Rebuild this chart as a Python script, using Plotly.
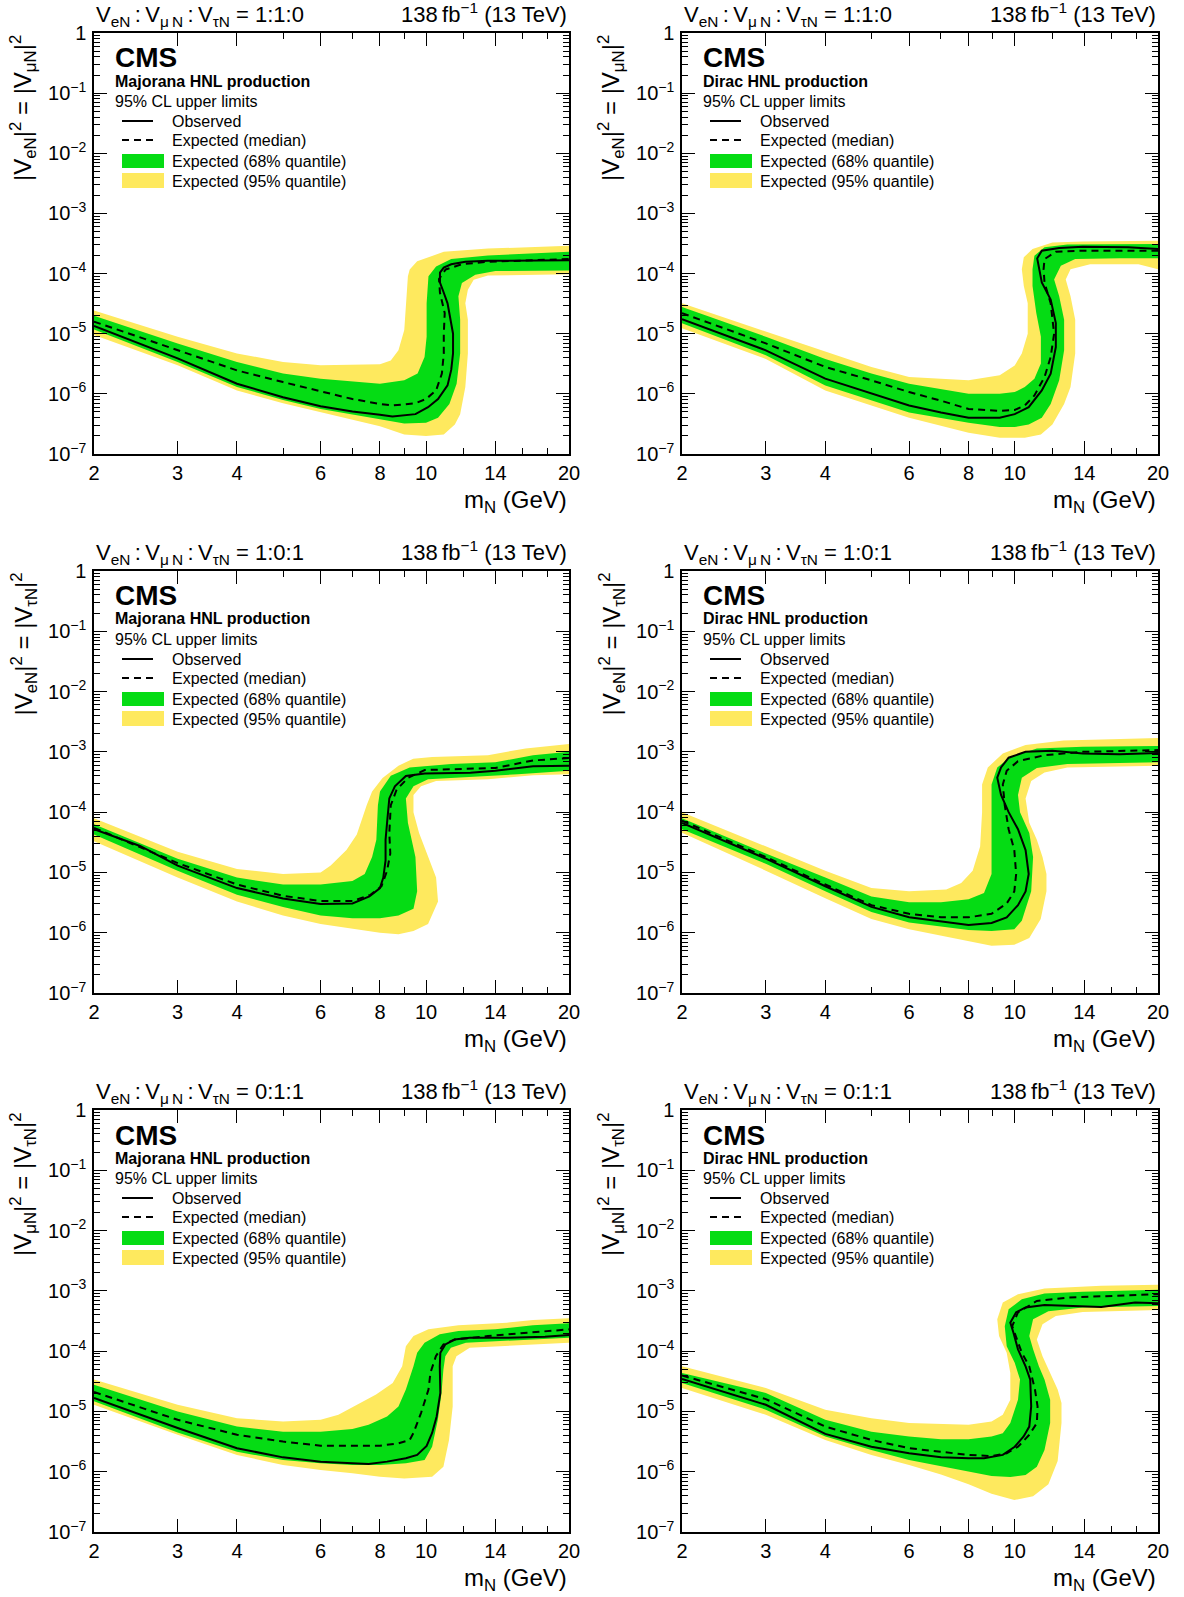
import math
import plotly.graph_objects as go

# ---------------------------------------------------------------------------
# 95% CL upper limits on |V|^2 versus HNL mass m_N (GeV)
# Each limit curve is a list of (m_N, |V|^2) points along the contour; the
# bands are given by their two edges: *_UP (above / left of the median) and
# *_LO (below / right of the median), both running from low to high mass.
# ---------------------------------------------------------------------------

# --- Majorana, V_eN : V_muN : V_tauN = 1:1:0 ---
MAJ110_OBS_M = [2, 3, 4, 5, 6, 7, 8, 8.5, 9.5, 10.1, 10.6, 11.1, 11.3, 11.4, 11.4, 11.25, 11.1, 10.9, 10.7, 10.7, 10.9, 11.3, 12.1, 13.5, 20]
MAJ110_OBS_V = [1.35e-5, 3.9e-6, 1.47e-6, 8.8e-7, 6.2e-7, 5.1e-7, 4.5e-7, 4.2e-7, 4.6e-7, 6.0e-7, 8.2e-7, 1.38e-6, 2.5e-6, 4.7e-6, 1.0e-5, 1.9e-5, 3.2e-5, 4.8e-5, 7.1e-5, 1.04e-4, 1.26e-4, 1.43e-4, 1.57e-4, 1.63e-4, 1.66e-4]
MAJ110_EXP_M = [2, 3, 4, 5, 6, 7, 8, 8.5, 9.5, 10, 10.5, 10.8, 10.9, 10.9, 10.95, 10.7, 10.65, 11.0, 11.9, 13.5, 20]
MAJ110_EXP_V = [1.59e-5, 5.3e-6, 2.45e-6, 1.57e-6, 1.1e-6, 8.2e-7, 6.8e-7, 6.4e-7, 7.0e-7, 8.2e-7, 1.14e-6, 2.17e-6, 4.7e-6, 1.0e-5, 2.2e-5, 4.8e-5, 8.1e-5, 1.17e-4, 1.43e-4, 1.57e-4, 1.75e-4]
MAJ110_S1_UP_M = [2, 3, 4, 5, 6, 8, 9, 9.6, 9.93, 10.03, 10.03, 10.12, 10.5, 11.3, 13.5, 20]
MAJ110_S1_UP_V = [1.98e-5, 6.9e-6, 3.4e-6, 2.17e-6, 1.79e-6, 1.47e-6, 1.68e-6, 2.17e-6, 4.1e-6, 8.9e-6, 3.2e-5, 9.0e-5, 1.31e-4, 1.75e-4, 2.0e-4, 2.3e-4]
MAJ110_S1_LO_M = [2, 3, 4, 5, 6, 8, 9, 10, 10.6, 11.2, 11.6, 11.8, 11.8, 11.7, 11.9, 12.7, 14, 20]
MAJ110_S1_LO_V = [1.18e-5, 3.4e-6, 1.3e-6, 7.9e-7, 5.6e-7, 3.8e-7, 3.2e-7, 3.3e-7, 4.0e-7, 6.8e-7, 1.47e-6, 4.7e-6, 1.7e-5, 4.2e-5, 7.0e-5, 9.6e-5, 1.1e-4, 1.12e-4]
MAJ110_S2_UP_M = [2, 3, 4, 5, 6, 8, 8.43, 8.75, 9.0, 9.07, 9.16, 9.24, 9.58, 10.9, 13.5, 20]
MAJ110_S2_UP_V = [2.44e-5, 8.9e-6, 4.7e-6, 3.4e-6, 3.0e-6, 3.1e-6, 3.6e-6, 5.3e-6, 1.15e-5, 3.2e-5, 9.0e-5, 1.17e-4, 1.6e-4, 2.3e-4, 2.6e-4, 2.9e-4]
MAJ110_S2_LO_M = [2, 3, 4, 5, 6, 8, 9, 10, 10.9, 11.5, 11.8, 12.1, 12.25, 12.25, 12.1, 12.25, 12.6, 13.5, 20]
MAJ110_S2_LO_V = [9.5e-6, 3.0e-6, 1.14e-6, 7.0e-7, 4.9e-7, 2.9e-7, 2.1e-7, 2.0e-7, 2.1e-7, 3.1e-7, 4.6e-7, 1.3e-6, 4.7e-6, 1.7e-5, 3.2e-5, 5.4e-5, 7.9e-5, 9.3e-5, 9.7e-5]

# --- Dirac, 1:1:0 ---
DIR110_OBS_M = [2, 3, 4, 5, 6, 7, 8, 9.3, 10, 10.7, 11.4, 11.9, 12.2, 12.2, 11.9, 11.4, 11.25, 11.15, 11.4, 12.4, 13.9, 17.3, 20]
DIR110_OBS_V = [1.74e-5, 5.3e-6, 1.79e-6, 1.0e-6, 6.4e-7, 4.9e-7, 4.0e-7, 4.0e-7, 4.6e-7, 6.0e-7, 1.14e-6, 2.17e-6, 6.0e-6, 1.5e-5, 3.7e-5, 7.1e-5, 1.18e-4, 1.79e-4, 2.4e-4, 2.67e-4, 2.8e-4, 2.74e-4, 2.57e-4]
DIR110_EXP_M = [2, 3, 4, 5, 6, 7, 8, 9.3, 10, 10.5, 11.0, 11.55, 11.9, 12.1, 11.9, 11.55, 11.5, 11.55, 12.2, 13.9, 20]
DIR110_EXP_V = [2.2e-5, 6.9e-6, 2.8e-6, 1.68e-6, 1.07e-6, 7.7e-7, 5.6e-7, 5.2e-7, 5.4e-7, 6.4e-7, 9.4e-7, 1.9e-6, 4.1e-6, 1.0e-5, 3.2e-5, 7.1e-5, 1.18e-4, 1.74e-4, 2.3e-4, 2.4e-4, 2.4e-4]
DIR110_S1_UP_M = [2, 3, 4, 5, 6, 8, 9.3, 10, 10.5, 11.0, 11.35, 11.35, 11.1, 10.9, 10.9, 11.0, 11.55, 12.9, 20]
DIR110_S1_UP_V = [2.78e-5, 8.9e-6, 3.8e-6, 2.17e-6, 1.47e-6, 1.0e-6, 1.0e-6, 1.07e-6, 1.3e-6, 1.79e-6, 3.2e-6, 8.9e-6, 2.2e-5, 6.2e-5, 1.18e-4, 1.98e-4, 2.74e-4, 3.03e-4, 3.1e-4]
DIR110_S1_LO_M = [2, 3, 4, 5, 6, 8, 9.3, 10, 10.7, 11.4, 11.9, 12.4, 12.7, 12.7, 12.4, 12.1, 12.5, 13.4, 16.6, 20]
DIR110_S1_LO_V = [1.49e-5, 4.4e-6, 1.38e-6, 7.7e-7, 4.9e-7, 3.3e-7, 2.8e-7, 2.8e-7, 3.1e-7, 4.0e-7, 6.8e-7, 1.68e-6, 5.3e-6, 1.7e-5, 4.2e-5, 8.0e-5, 1.35e-4, 1.74e-4, 1.8e-4, 1.8e-4]
DIR110_S2_UP_M = [2, 3, 4, 5, 6, 8, 9.3, 10, 10.35, 10.65, 10.65, 10.45, 10.35, 10.45, 10.9, 12.0, 13.9, 20]
DIR110_S2_UP_V = [3.2e-5, 1.08e-5, 5.0e-6, 2.8e-6, 1.9e-6, 1.68e-6, 2.03e-6, 2.97e-6, 4.7e-6, 1.0e-5, 3.2e-5, 6.2e-5, 1.18e-4, 1.86e-4, 2.57e-4, 3.3e-4, 3.4e-4, 3.5e-4]
DIR110_S2_LO_M = [2, 3, 4, 5, 6, 8, 9.3, 10.5, 11.35, 12.0, 12.7, 13.1, 13.4, 13.4, 13.1, 12.8, 13.1, 14.4, 18.2, 20]
DIR110_S2_LO_V = [1.23e-5, 3.8e-6, 1.14e-6, 6.4e-7, 4.0e-7, 2.26e-7, 1.86e-7, 1.86e-7, 2.1e-7, 3.1e-7, 6.8e-7, 1.3e-6, 4.7e-6, 1.7e-5, 4.2e-5, 8.0e-5, 1.18e-4, 1.43e-4, 1.43e-4, 1.18e-4]

# --- Majorana, 1:0:1 ---
MAJ101_OBS_M = [2, 2.5, 3, 4, 5, 6, 7, 7.6, 8, 8.13, 8.22, 8.22, 8.28, 8.37, 8.6, 9.07, 9.94, 12.4, 14, 16.8, 20]
MAJ101_OBS_V = [5.2e-5, 2.75e-5, 1.3e-5, 5.5e-6, 3.7e-6, 3.0e-6, 3.06e-6, 4.0e-6, 5.5e-6, 8.2e-6, 1.58e-5, 3.5e-5, 6.7e-5, 1.69e-4, 2.68e-4, 3.98e-4, 4.36e-4, 4.5e-4, 4.85e-4, 5.75e-4, 5.9e-4]
MAJ101_EXP_M = [2, 3, 4, 5, 6, 7, 7.64, 8.06, 8.28, 8.41, 8.37, 8.43, 8.67, 9.16, 9.94, 14, 16.8, 20]
MAJ101_EXP_V = [5.5e-5, 1.43e-5, 6.3e-6, 4.1e-6, 3.35e-6, 3.35e-6, 4.25e-6, 5.9e-6, 1.07e-5, 2.06e-5, 4.5e-5, 1.3e-4, 2.35e-4, 3.7e-4, 5.0e-4, 5.4e-4, 7.2e-4, 7.9e-4]
MAJ101_S1_UP_M = [2, 3, 4, 5, 6, 7, 7.43, 7.7, 7.86, 7.92, 8.0, 8.43, 9.24, 11.3, 14, 16.8, 20]
MAJ101_S1_UP_V = [6.3e-5, 1.69e-5, 8.2e-6, 6.3e-6, 6.3e-6, 7.2e-6, 9.4e-6, 1.8e-5, 3.5e-5, 1.3e-4, 2.2e-4, 4.0e-4, 5.5e-4, 6.3e-4, 6.7e-4, 8.8e-4, 1.0e-3]
MAJ101_S1_LO_M = [2, 3, 4, 5, 6, 7, 8, 8.75, 9.41, 9.58, 9.5, 9.16, 9.07, 9.41, 10.1, 12.4, 15.6, 20]
MAJ101_S1_LO_V = [4.25e-5, 1.07e-5, 4.25e-6, 2.68e-6, 1.93e-6, 1.74e-6, 1.74e-6, 1.93e-6, 2.5e-6, 4.85e-6, 1.8e-5, 6.7e-5, 1.69e-4, 2.68e-4, 3.5e-4, 3.83e-4, 4.25e-4, 4.85e-4]
MAJ101_S2_UP_M = [2, 3, 4, 5, 6, 6.3, 6.8, 7.15, 7.5, 7.7, 8.1, 8.75, 9.4, 10.3, 13.5, 16.2, 20]
MAJ101_S2_UP_V = [7.9e-5, 2.2e-5, 1.14e-5, 9.4e-6, 1.0e-5, 1.3e-5, 2.35e-5, 4.25e-5, 1.3e-4, 2.2e-4, 3.7e-4, 5.9e-4, 7.7e-4, 8.2e-4, 8.8e-4, 1.14e-3, 1.35e-3]
MAJ101_S2_LO_M = [2, 3, 4, 5, 6, 8, 8.75, 9.41, 10.1, 10.6, 10.5, 10.1, 9.67, 9.41, 9.41, 9.76, 10.5, 13.5, 16.8, 20]
MAJ101_S2_LO_V = [3.3e-5, 8.2e-6, 3.3e-6, 1.93e-6, 1.39e-6, 1.0e-6, 9.4e-7, 1.07e-6, 1.39e-6, 3.3e-6, 8.2e-6, 1.8e-5, 4.5e-5, 1.0e-4, 1.93e-4, 2.68e-4, 3.3e-4, 3.5e-4, 4.1e-4, 4.25e-4]

# --- Dirac, 1:0:1 ---
DIR101_OBS_M = [2, 3, 4, 5, 6, 7, 8, 8.94, 9.62, 10.16, 10.54, 10.7, 10.54, 10.16, 9.71, 9.36, 9.19, 9.36, 9.71, 10.54, 12.0, 13.9, 16.6, 20]
DIR101_OBS_V = [6.6e-5, 1.69e-5, 5.9e-6, 2.68e-6, 1.8e-6, 1.54e-6, 1.34e-6, 1.45e-6, 1.8e-6, 2.87e-6, 4.85e-6, 9.4e-6, 2.35e-5, 5.2e-5, 1.0e-4, 1.93e-4, 3.73e-4, 5.5e-4, 8.0e-4, 1.0e-3, 1.04e-3, 9.4e-4, 9.1e-4, 9.6e-4]
DIR101_EXP_M = [2, 3, 4, 5, 6, 7, 8, 8.94, 9.62, 9.98, 10.07, 9.98, 9.71, 9.53, 9.44, 9.62, 10.16, 11.55, 13.9, 20]
DIR101_EXP_V = [7.2e-5, 1.8e-5, 6.3e-6, 2.87e-6, 2.06e-6, 1.8e-6, 1.8e-6, 2.06e-6, 3.06e-6, 4.85e-6, 9.4e-6, 2.35e-5, 5.2e-5, 1.3e-4, 2.87e-4, 4.85e-4, 7.0e-4, 8.8e-4, 1.0e-3, 1.07e-3]
DIR101_S1_UP_M = [2, 3, 4, 5, 6, 7, 8, 8.62, 8.94, 8.94, 8.94, 8.94, 9.19, 9.79, 11.13, 13.9, 20]
DIR101_S1_UP_V = [7.9e-5, 2.06e-5, 8.2e-6, 4.0e-6, 3.2e-6, 3.2e-6, 3.6e-6, 4.55e-6, 9.4e-6, 3.5e-5, 1.3e-4, 2.87e-4, 5.5e-4, 8.2e-4, 1.14e-3, 1.22e-3, 1.25e-3]
DIR101_S1_LO_M = [2, 3, 4, 5, 6, 7, 8, 8.94, 9.98, 10.35, 10.83, 10.93, 10.73, 10.26, 10.16, 10.35, 11.13, 12.9, 20]
DIR101_S1_LO_V = [5.2e-5, 1.39e-5, 4.85e-6, 2.2e-6, 1.48e-6, 1.27e-6, 1.11e-6, 1.07e-6, 1.14e-6, 1.58e-6, 4.85e-6, 1.8e-5, 4.5e-5, 1.0e-4, 1.93e-4, 3.73e-4, 5.4e-4, 6.3e-4, 6.7e-4]
DIR101_S2_UP_M = [2, 3, 4, 5, 6, 7.18, 7.72, 8.16, 8.46, 8.54, 8.54, 8.78, 9.44, 10.54, 12.66, 20]
DIR101_S2_UP_V = [1.0e-4, 2.75e-5, 1.07e-5, 5.5e-6, 4.85e-6, 5.2e-6, 6.7e-6, 1.07e-5, 2.68e-5, 1.0e-4, 2.87e-4, 5.5e-4, 9.4e-4, 1.3e-3, 1.54e-3, 1.69e-3]
DIR101_S2_LO_M = [2, 3, 4, 5, 6, 7, 8, 8.94, 9.98, 10.73, 11.34, 11.66, 11.66, 11.44, 11.13, 10.73, 10.54, 10.83, 11.55, 12.9, 20]
DIR101_S2_LO_V = [4.55e-5, 1.07e-5, 3.73e-6, 1.69e-6, 1.14e-6, 8.8e-7, 7.2e-7, 6.06e-7, 6.3e-7, 8.2e-7, 1.69e-6, 4.85e-6, 9.4e-6, 1.8e-5, 3.5e-5, 6.7e-5, 1.69e-4, 3.27e-4, 4.55e-4, 5.5e-4, 5.9e-4]

# --- Majorana, 0:1:1 ---
MAJ011_OBS_M = [2, 3, 4, 5, 6, 7, 7.57, 8.28, 9.07, 9.58, 10.03, 10.3, 10.53, 10.72, 10.69, 10.72, 10.98, 11.49, 12.36, 14.8, 17.8, 20]
MAJ011_OBS_V = [1.67e-5, 5.3e-6, 2.45e-6, 1.73e-6, 1.47e-6, 1.38e-6, 1.34e-6, 1.47e-6, 1.67e-6, 1.9e-6, 2.68e-6, 4.4e-6, 8.25e-6, 2.02e-5, 5.6e-5, 9.4e-5, 1.29e-4, 1.56e-4, 1.67e-4, 1.67e-4, 1.73e-4, 1.85e-4]
MAJ011_EXP_M = [2, 3, 4, 5, 6, 7, 8, 8.75, 9.24, 9.41, 9.76, 10.12, 10.22, 10.49, 10.88, 11.49, 13.5, 20]
MAJ011_EXP_V = [2.1e-5, 7.26e-6, 4.1e-6, 3.16e-6, 2.7e-6, 2.68e-6, 2.7e-6, 2.96e-6, 3.37e-6, 4.4e-6, 9.4e-6, 2.3e-5, 4.4e-5, 8.25e-5, 1.29e-4, 1.56e-4, 1.78e-4, 2.3e-4]
MAJ011_S1_UP_M = [2, 3, 4, 5, 6, 7, 7.57, 8.28, 8.75, 9.07, 9.41, 9.58, 9.93, 10.69, 11.7, 14, 16.8, 20]
MAJ011_S1_UP_V = [2.78e-5, 1.0e-5, 5.6e-6, 4.6e-6, 4.6e-6, 5.1e-6, 6.0e-6, 8.25e-6, 1.21e-5, 2.3e-5, 5.6e-5, 9.4e-5, 1.38e-4, 1.9e-4, 2.15e-4, 2.3e-4, 2.68e-4, 2.9e-4]
MAJ011_S1_LO_M = [2, 3, 4, 5, 6, 7, 8, 9.07, 9.93, 10.3, 10.59, 10.78, 10.88, 10.98, 11.28, 12.13, 14.8, 20]
MAJ011_S1_LO_V = [1.47e-5, 4.46e-6, 2.15e-6, 1.56e-6, 1.38e-6, 1.29e-6, 1.29e-6, 1.38e-6, 1.56e-6, 2.6e-6, 7.3e-6, 2.02e-5, 4.95e-5, 8.25e-5, 1.14e-4, 1.38e-4, 1.47e-4, 1.67e-4]
MAJ011_S2_UP_M = [2, 3, 4, 5, 6, 6.54, 7.85, 8.51, 8.91, 9.07, 9.41, 10.12, 11.7, 14.8, 16.8, 20]
MAJ011_S2_UP_V = [3.37e-5, 1.29e-5, 7.74e-6, 6.8e-6, 7.26e-6, 8.8e-6, 1.9e-5, 2.97e-5, 5.6e-5, 1.21e-4, 1.78e-4, 2.3e-4, 2.7e-4, 2.97e-4, 3.3e-4, 3.5e-4]
MAJ011_S2_LO_M = [2, 3, 4, 5, 6, 7, 8, 9, 10.3, 10.88, 11.18, 11.38, 11.38, 11.59, 12.36, 14.8, 20]
MAJ011_S2_LO_V = [1.29e-5, 4.1e-6, 1.9e-6, 1.29e-6, 1.07e-6, 9.4e-7, 8.25e-7, 7.74e-7, 8.25e-7, 1.21e-6, 3.37e-6, 1.21e-5, 5.6e-5, 8.25e-5, 1.14e-4, 1.24e-4, 1.38e-4]

# --- Dirac, 0:1:1 ---
DIR011_OBS_M = [2, 3, 4, 5, 6, 7, 8, 8.62, 9.44, 10.0, 10.44, 10.73, 10.83, 10.78, 10.54, 10.16, 9.94, 9.79, 10.07, 10.54, 11.55, 13.9, 15.2, 17.9, 20]
DIR011_OBS_V = [3.46e-5, 1.29e-5, 4.24e-6, 2.6e-6, 2.02e-6, 1.73e-6, 1.67e-6, 1.67e-6, 1.9e-6, 2.6e-6, 3.84e-6, 5.6e-6, 1.21e-5, 3.37e-5, 5.6e-5, 1.07e-4, 2.02e-4, 2.97e-4, 4.4e-4, 5.3e-4, 5.85e-4, 5.6e-4, 5.4e-4, 6.4e-4, 6.2e-4]
DIR011_EXP_M = [2, 3, 4, 5, 6, 7, 8, 8.94, 9.62, 10.16, 10.73, 11.13, 11.17, 11.03, 10.73, 10.35, 10.07, 9.88, 10.16, 11.13, 12.9, 16.65, 20]
DIR011_EXP_V = [3.94e-5, 1.6e-5, 5.6e-6, 3.37e-6, 2.45e-6, 2.15e-6, 1.9e-6, 1.82e-6, 2.02e-6, 2.6e-6, 4.1e-6, 6.4e-6, 1.21e-5, 2.3e-5, 5.6e-5, 9.4e-5, 1.78e-4, 2.6e-4, 4.4e-4, 6.8e-4, 7.74e-4, 8.46e-4, 8.8e-4]
DIR011_S1_UP_M = [2, 3, 4, 5, 6, 7, 8, 8.94, 9.44, 9.79, 10.16, 10.26, 10.0, 9.62, 9.53, 9.71, 10.35, 11.55, 13.9, 20]
DIR011_S1_UP_V = [4.36e-5, 2.02e-5, 7.26e-6, 4.6e-6, 3.84e-6, 3.47e-6, 3.47e-6, 3.84e-6, 4.36e-6, 6.4e-6, 1.56e-5, 3.37e-5, 6.4e-5, 1.21e-4, 2.6e-4, 4.95e-4, 7.26e-4, 9.0e-4, 9.7e-4, 1.04e-3]
DIR011_S1_LO_M = [2, 3, 4, 5, 6, 7, 8, 8.94, 9.79, 10.54, 11.13, 11.55, 11.87, 11.87, 11.55, 11.24, 10.93, 10.73, 10.93, 11.77, 13.9, 20]
DIR011_S1_LO_V = [2.97e-5, 1.07e-5, 3.84e-6, 2.3e-6, 1.56e-6, 1.21e-6, 1.0e-6, 8.5e-7, 8.2e-7, 8.8e-7, 1.21e-6, 2.3e-6, 6.4e-6, 1.56e-5, 3.37e-5, 5.6e-5, 1.07e-4, 1.78e-4, 3.37e-4, 4.6e-4, 5.3e-4, 5.6e-4]
DIR011_S2_UP_M = [2, 3, 4, 5, 6, 8, 8.94, 9.44, 9.79, 9.79, 9.62, 9.27, 9.19, 9.44, 10.16, 11.55, 15.2, 20]
DIR011_S2_UP_V = [5.6e-5, 2.45e-5, 1.07e-5, 7.74e-6, 6.4e-6, 6.0e-6, 6.8e-6, 8.8e-6, 1.56e-5, 4.36e-5, 9.4e-5, 1.78e-4, 3.37e-4, 6.4e-4, 8.8e-4, 1.09e-3, 1.21e-3, 1.26e-3]
DIR011_S2_LO_M = [2, 3, 4, 5, 6, 7, 8, 8.94, 9.98, 10.93, 11.77, 12.31, 12.54, 12.54, 12.31, 11.87, 11.44, 11.13, 11.44, 12.2, 13.9, 20]
DIR011_S2_LO_V = [2.45e-5, 8.8e-6, 3.37e-6, 1.9e-6, 1.29e-6, 9.0e-7, 6.2e-7, 4.3e-7, 3.4e-7, 3.9e-7, 6.2e-7, 1.5e-6, 6.4e-6, 1.38e-5, 2.3e-5, 4.36e-5, 8.25e-5, 1.56e-4, 2.78e-4, 3.84e-4, 4.46e-4, 4.8e-4]

# Axis ticks
X_TICKS = [2, 3, 4, 6, 8, 10, 14, 20]
X_MINOR = [5, 7, 9, 12, 16, 18]
Y_DECADES = list(range(-7, 1))

# ---------------------------------------------------------------------------
W, H = 1184, 1597
FONT = "Liberation Sans, Arial, Helvetica, sans-serif"
GREEN = "#05DC14"
YELLOW = "#FEE95E"

COLS = [(94, 569), (682, 1158)]          # plot frame left/right (px)
ROWS = [(33, 454), (571, 993), (1110, 1532)]  # plot frame top/bottom (px)

THIN = "\u2009"


def sub(s):
    return "<sub>%s</sub>" % s


RATIO_HDR = ("V" + sub("eN") + THIN + ":" + THIN + "V" + sub("μ" + THIN + "N") + THIN + ":"
             + THIN + "V" + sub("τN") + " = ")
YT_E_MU = "|V" + sub("eN") + "|<sup>2</sup> = |V" + sub("μN") + "|<sup>2</sup>"
YT_E_TAU = "|V" + sub("eN") + "|<sup>2</sup> = |V" + sub("τN") + "|<sup>2</sup>"
YT_MU_TAU = "|V" + sub("μN") + "|<sup>2</sup> = |V" + sub("τN") + "|<sup>2</sup>"

PANELS = [
    dict(kind="Majorana", ratio="1:1:0", ytitle=YT_E_MU,
         obs=(MAJ110_OBS_M, MAJ110_OBS_V), exp=(MAJ110_EXP_M, MAJ110_EXP_V),
         s1=(MAJ110_S1_UP_M, MAJ110_S1_UP_V, MAJ110_S1_LO_M, MAJ110_S1_LO_V),
         s2=(MAJ110_S2_UP_M, MAJ110_S2_UP_V, MAJ110_S2_LO_M, MAJ110_S2_LO_V)),
    dict(kind="Dirac", ratio="1:1:0", ytitle=YT_E_MU,
         obs=(DIR110_OBS_M, DIR110_OBS_V), exp=(DIR110_EXP_M, DIR110_EXP_V),
         s1=(DIR110_S1_UP_M, DIR110_S1_UP_V, DIR110_S1_LO_M, DIR110_S1_LO_V),
         s2=(DIR110_S2_UP_M, DIR110_S2_UP_V, DIR110_S2_LO_M, DIR110_S2_LO_V)),
    dict(kind="Majorana", ratio="1:0:1", ytitle=YT_E_TAU,
         obs=(MAJ101_OBS_M, MAJ101_OBS_V), exp=(MAJ101_EXP_M, MAJ101_EXP_V),
         s1=(MAJ101_S1_UP_M, MAJ101_S1_UP_V, MAJ101_S1_LO_M, MAJ101_S1_LO_V),
         s2=(MAJ101_S2_UP_M, MAJ101_S2_UP_V, MAJ101_S2_LO_M, MAJ101_S2_LO_V)),
    dict(kind="Dirac", ratio="1:0:1", ytitle=YT_E_TAU,
         obs=(DIR101_OBS_M, DIR101_OBS_V), exp=(DIR101_EXP_M, DIR101_EXP_V),
         s1=(DIR101_S1_UP_M, DIR101_S1_UP_V, DIR101_S1_LO_M, DIR101_S1_LO_V),
         s2=(DIR101_S2_UP_M, DIR101_S2_UP_V, DIR101_S2_LO_M, DIR101_S2_LO_V)),
    dict(kind="Majorana", ratio="0:1:1", ytitle=YT_MU_TAU,
         obs=(MAJ011_OBS_M, MAJ011_OBS_V), exp=(MAJ011_EXP_M, MAJ011_EXP_V),
         s1=(MAJ011_S1_UP_M, MAJ011_S1_UP_V, MAJ011_S1_LO_M, MAJ011_S1_LO_V),
         s2=(MAJ011_S2_UP_M, MAJ011_S2_UP_V, MAJ011_S2_LO_M, MAJ011_S2_LO_V)),
    dict(kind="Dirac", ratio="0:1:1", ytitle=YT_MU_TAU,
         obs=(DIR011_OBS_M, DIR011_OBS_V), exp=(DIR011_EXP_M, DIR011_EXP_V),
         s1=(DIR011_S1_UP_M, DIR011_S1_UP_V, DIR011_S1_LO_M, DIR011_S1_LO_V),
         s2=(DIR011_S2_UP_M, DIR011_S2_UP_V, DIR011_S2_LO_M, DIR011_S2_LO_V)),
]


def px(x):
    return x / W


def py(y):
    return 1 - y / H


def text(x, y, s, size, xanchor="left", yanchor="middle", angle=0):
    return dict(x=px(x), y=py(y), xref="paper", yref="paper", text=s,
                showarrow=False, xanchor=xanchor, yanchor=yanchor,
                textangle=angle, font=dict(family=FONT, size=size, color="black"))


def band(up_m, up_v, lo_m, lo_v):
    """Closed contour: upper edge left->right, lower edge right->left."""
    return list(up_m) + list(lo_m)[::-1], list(up_v) + list(lo_v)[::-1]


fig = go.Figure()
annotations = []
shapes = []

y_minor = [k * 10.0 ** d for d in range(-7, 0) for k in range(2, 10)]
y_ticktext = ["1" if d == 0 else "10<sup>−%d</sup>" % (-d) for d in Y_DECADES]

for i, p in enumerate(PANELS):
    k = i + 1
    row, col = divmod(i, 2)
    L, R = COLS[col]
    T, B = ROWS[row]
    xa, ya = "x%d" % k, "y%d" % k
    sfx = "" if k == 1 else str(k)

    bx, by = band(*p["s2"])
    fig.add_trace(go.Scatter(x=bx, y=by, xaxis=xa, yaxis=ya, mode="lines",
                             fill="toself", fillcolor=YELLOW, line=dict(width=0),
                             hoverinfo="skip", showlegend=False))
    bx, by = band(*p["s1"])
    fig.add_trace(go.Scatter(x=bx, y=by, xaxis=xa, yaxis=ya, mode="lines",
                             fill="toself", fillcolor=GREEN, line=dict(width=0),
                             hoverinfo="skip", showlegend=False))
    fig.add_trace(go.Scatter(x=p["exp"][0], y=p["exp"][1], xaxis=xa, yaxis=ya,
                             mode="lines", line=dict(color="black", width=2, dash="7px,5px"),
                             showlegend=False))
    fig.add_trace(go.Scatter(x=p["obs"][0], y=p["obs"][1], xaxis=xa, yaxis=ya,
                             mode="lines", line=dict(color="black", width=2),
                             showlegend=False))

    common = dict(showline=True, linecolor="black", linewidth=1.5, mirror="ticks",
                  ticks="inside", tickcolor="black", tickwidth=1, ticklen=13,
                  showgrid=False, zeroline=False, automargin=False,
                  tickfont=dict(family=FONT, size=20, color="black"))
    fig.layout["xaxis" + sfx] = dict(
        type="log", range=[math.log10(2), math.log10(20)], anchor=ya,
        domain=[px(L), px(R)], tickvals=X_TICKS, ticktext=[str(v) for v in X_TICKS],
        minor=dict(tickvals=X_MINOR, ticks="inside", ticklen=6, tickcolor="black",
                   tickwidth=1, showgrid=False),
        ticklabelstandoff=0, **common)
    fig.layout["yaxis" + sfx] = dict(
        type="log", range=[-7, 0], anchor=xa,
        domain=[py(B), py(T)], tickvals=[10.0 ** d for d in Y_DECADES], ticktext=y_ticktext,
        minor=dict(tickvals=y_minor, ticks="inside", ticklen=6, tickcolor="black",
                   tickwidth=1, showgrid=False),
        ticklabelstandoff=2, **common)

    # headers and axis titles
    annotations.append(text(L, T - 17, RATIO_HDR + p["ratio"], 22))
    annotations.append(text(R, T - 20, "138" + THIN + "fb<sup>−1</sup> (13 TeV)", 22, xanchor="right"))
    annotations.append(text(R, B + 47, "m" + sub("N") + " (GeV)", 24, xanchor="right"))
    annotations.append(text(L - 71, T, p["ytitle"], 24, xanchor="center", yanchor="top", angle=-90))

    # CMS label and legend
    annotations.append(text(L + 19, T + 25, "<b>CMS</b>", 28))
    annotations.append(text(L + 19, T + 48, "<b>%s HNL production</b>" % p["kind"], 16))
    annotations.append(text(L + 19, T + 68, "95% CL upper limits", 16))
    entries = [("Observed", T + 88), ("Expected (median)", T + 107),
               ("Expected (68% quantile)", T + 128), ("Expected (95% quantile)", T + 148)]
    for label, yy in entries:
        annotations.append(text(L + 76, yy, label, 16))
    shapes.append(dict(type="line", xref="paper", yref="paper",
                       x0=px(L + 28), x1=px(L + 59), y0=py(T + 88), y1=py(T + 88),
                       line=dict(color="black", width=2)))
    shapes.append(dict(type="line", xref="paper", yref="paper",
                       x0=px(L + 28), x1=px(L + 59), y0=py(T + 107), y1=py(T + 107),
                       line=dict(color="black", width=2, dash="7px,5px")))
    shapes.append(dict(type="rect", xref="paper", yref="paper",
                       x0=px(L + 28), x1=px(L + 70), y0=py(T + 121), y1=py(T + 135),
                       line=dict(width=0), fillcolor=GREEN))
    shapes.append(dict(type="rect", xref="paper", yref="paper",
                       x0=px(L + 28), x1=px(L + 70), y0=py(T + 140), y1=py(T + 155),
                       line=dict(width=0), fillcolor=YELLOW))

fig.update_layout(width=W, height=H, margin=dict(l=0, r=0, t=0, b=0),
                  paper_bgcolor="white", plot_bgcolor="white",
                  annotations=annotations, shapes=shapes, showlegend=False,
                  font=dict(family=FONT, color="black"))

fig.write_html("out.html")
